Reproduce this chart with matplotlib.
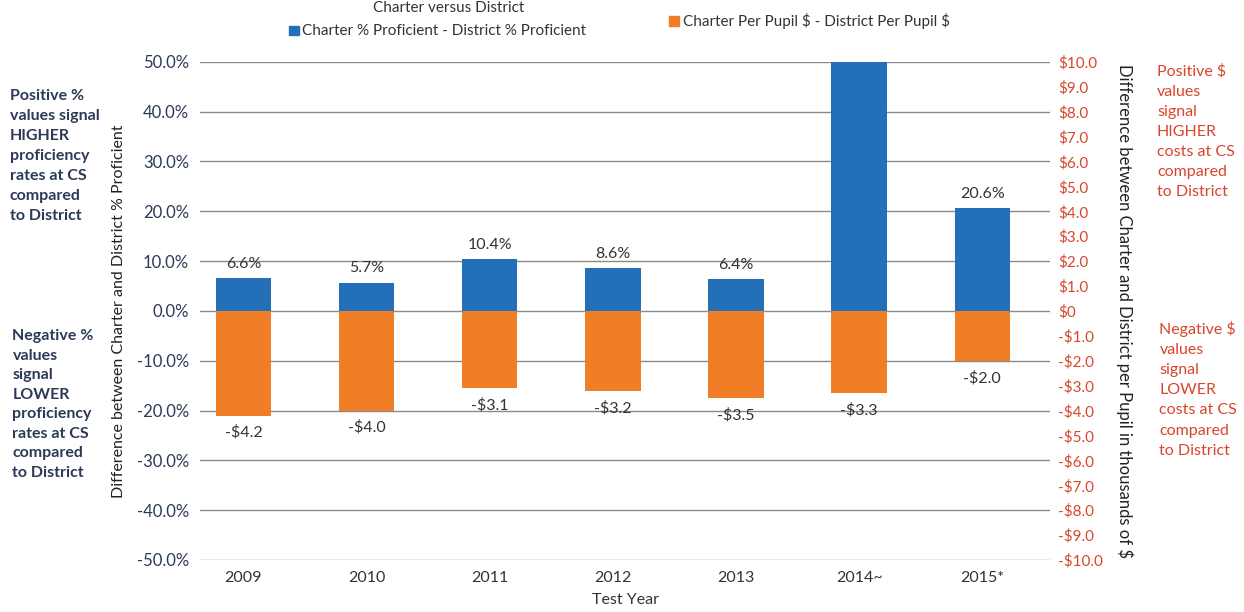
import matplotlib
matplotlib.use("Agg")
import matplotlib.pyplot as plt
from matplotlib.patches import Rectangle

plt.rcParams['font.family'] = ['Lato', 'DejaVu Sans']
plt.rcParams['text.parse_math'] = False

years = ['2009', '2010', '2011', '2012', '2013', '2014~', '2015*']
prof_diff = [6.6, 5.7, 10.4, 8.6, 6.4, 50.0, 20.6]        # % points
prof_labels = ['6.6%', '5.7%', '10.4%', '8.6%', '6.4%', '', '20.6%']
cost_diff = [-4.2, -4.0, -3.1, -3.2, -3.5, -3.3, -2.0]    # thousands of $

blue = '#2470B8'
orange = '#F07E26'
navy = '#2B3A58'
red = '#D9452B'

fig = plt.figure(figsize=(12.44, 6.12), dpi=100)
ax = fig.add_axes([0.161, 0.085, 0.683, 0.814])
ax2 = ax.twinx()

x = list(range(len(years)))
w = 0.45

# gridlines (every 10%)
ax.set_ylim(-50, 50)
ax.set_yticks(range(-50, 51, 10))
ax.set_yticklabels([f'{v:.1f}%' for v in range(-50, 51, 10)], color=navy, fontsize=12)
ax.grid(axis='y', color='#8a8a8a', linewidth=1)
ax.set_axisbelow(True)
ax.set_xlim(-0.35, 6.55)
ax.set_xticks(x)
ax.set_xticklabels(years, fontsize=11.5, color='#333333')
ax.tick_params(length=0, pad=8)
for s in ax.spines.values():
    s.set_visible(False)

ax.bar(x, prof_diff, width=w, color=blue, zorder=3)
for xi, v, lab in zip(x, prof_diff, prof_labels):
    if lab:
        ax.text(xi, v + 1.5, lab, ha='center', va='bottom', fontsize=11.5, color='#333333')

ax2.set_ylim(-10, 10)
ax2.set_yticks(range(-10, 11))
ax2.set_yticklabels([('$0' if v == 0 else (f'-${abs(v):.1f}' if v < 0 else f'${v:.1f}'))
                     for v in range(-10, 11)], color=red, fontsize=11)
ax2.tick_params(length=0, pad=6)
for s in ax2.spines.values():
    s.set_visible(False)
ax2.bar(x, cost_diff, width=w, color=orange, zorder=3)
for xi, v in zip(x, cost_diff):
    ax2.text(xi, v - 0.4, f'-${abs(v):.1f}', ha='center', va='top', fontsize=11.5, color='#333333')

ax.set_xlabel('Test Year', fontsize=11.5, color='#333333', labelpad=6)
ax.set_ylabel('Difference between Charter and District % Proficient', fontsize=11.5,
              color='#222222', labelpad=8)
ax2.set_ylabel('Difference between Charter and District per Pupil in thousands of $',
               fontsize=12, color='#222222', rotation=270, labelpad=22)

# title (cut off at the top of the scan)
fig.text(0.30, 0.999, 'Charter versus District', fontsize=11, color='#333333',
         ha='left', va='top')

# legend
fig.patches.append(Rectangle((0.232, 0.942), 0.008, 0.016, transform=fig.transFigure,
                             color=blue))
fig.text(0.243, 0.950, 'Charter % Proficient - District % Proficient', fontsize=11,
         color='#333333', va='center')
fig.patches.append(Rectangle((0.538, 0.958), 0.008, 0.016, transform=fig.transFigure,
                             color=orange))
fig.text(0.549, 0.966, 'Charter Per Pupil $ - District Per Pupil $', fontsize=11,
         color='#333333', va='center')

# side notes
fig.text(0.008, 0.855, 'Positive %\nvalues signal\nHIGHER\nproficiency\nrates at CS\ncompared\nto District',
         fontsize=11.5, color=navy, fontweight='bold', va='top', linespacing=1.55)
fig.text(0.010, 0.462, 'Negative %\nvalues\nsignal\nLOWER\nproficiency\nrates at CS\ncompared\nto District',
         fontsize=11.5, color=navy, fontweight='bold', va='top', linespacing=1.5)
fig.text(0.930, 0.895, 'Positive $\nvalues\nsignal\nHIGHER\ncosts at CS\ncompared\nto District',
         fontsize=11.5, color=red, va='top', linespacing=1.55)
fig.text(0.932, 0.475, 'Negative $\nvalues\nsignal\nLOWER\ncosts at CS\ncompared\nto District',
         fontsize=11.5, color=red, va='top', linespacing=1.55)

fig.savefig('out.png', dpi=100)
